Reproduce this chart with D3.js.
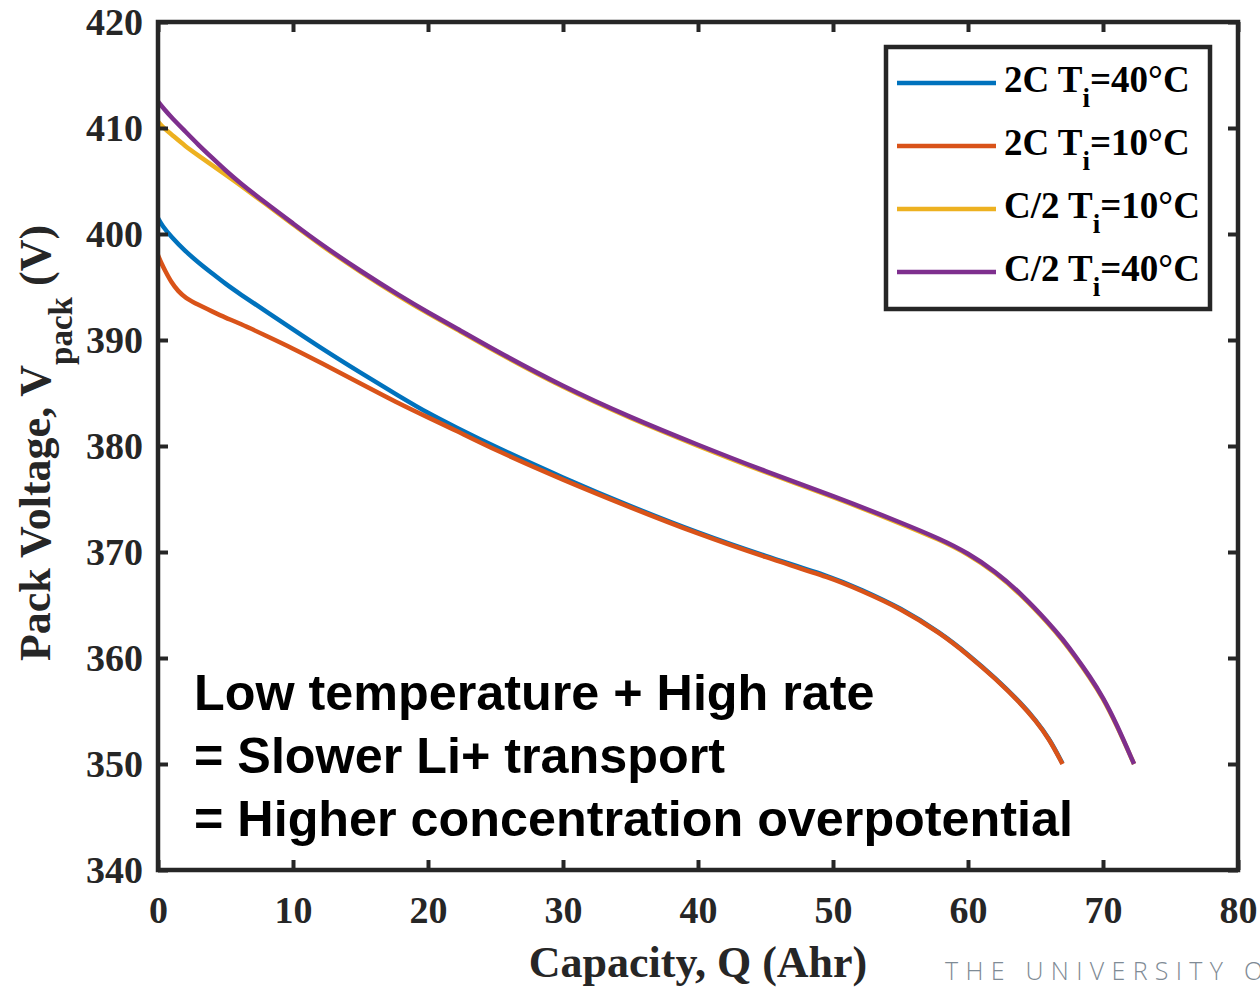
<!DOCTYPE html>
<html><head><meta charset="utf-8">
<script src="https://cdn.jsdelivr.net/npm/d3@7"></script>
<style>body{margin:0;background:#fff}svg{display:block}</style>
</head><body><svg id="c" width="1260" height="987"></svg>
<script>
const xTicks = [0,10,20,30,40,50,60,70,80];
const yTicks = [340,350,360,370,380,390,400,410,420];
const seriesNames = ["2C", "2C", "C/2", "C/2"];
const seriesTemps = ["=40°C", "=10°C", "=10°C", "=40°C"];
const seriesColors = ["#0072BD", "#D95319", "#EDB120", "#7E2F8E"];

const qBlue  = [0,0.3,1,2,3,4,5,6,8,10,12,15,18,20,22,25,30,35,40,45,50,52,55,58,60,62,64,65,66,67];
const vBlue  = [401.5,400.8,399.7,398.4,397.3,396.3,395.3,394.4,392.7,391.0,389.3,386.9,384.6,383.1,381.8,379.9,377.0,374.3,371.8,369.6,367.6,366.5,364.75,362.35,360.35,358.15,355.65,354.15,352.45,350.05];
const qOrange = [0,0.3,0.5,1,1.5,2,3,4,5,6,8,10,12,15,18,20,22,25,30,35,40,45,50,52,55,58,60,62,64,65,66,67];
const vOrange = [398.0,397.1,396.6,395.4,394.6,394.0,393.3,392.7,392.1,391.6,390.4,389.2,387.9,385.9,383.9,382.7,381.5,379.6,376.8,374.2,371.7,369.5,367.5,366.4,364.7,362.3,360.3,358.1,355.6,354.1,352.4,350.0];
const qYellow = [0,0.5,1,2,3,4,5,6,8,10,12,15,18,20,22,25,30,35,40,45,50,55,58,60,62,64,66,67,68,69,70,71,72.3];
const vYellow = [410.6,409.9,409.4,408.3,407.4,406.5,405.6,404.7,402.8,400.9,399.0,396.4,394.0,392.5,391.1,388.9,385.5,382.6,380.0,377.5,375.2,372.7,371.1,369.8,368.1,365.9,363.2,361.7,360.0,358.2,356.2,353.7,350.0];
const qPurple = [0,0.5,1,2,3,4,5,6,8,10,12,15,18,20,22,25,30,35,40,45,50,55,58,60,62,64,66,67,68,69,70,71,72.3];
const vPurple = [412.5,411.7,411.0,409.7,408.4,407.2,406.0,404.9,402.9,401.0,399.1,396.5,394.1,392.6,391.2,389.0,385.6,382.7,380.1,377.6,375.3,372.8,371.2,369.9,368.2,366.0,363.3,361.8,360.1,358.3,356.3,353.8,350.0];

const qs = [qBlue, qOrange, qYellow, qPurple];
const vs = [vBlue, vOrange, vYellow, vPurple];

const L = 158, T = 22, W = 1080, H = 848;
const svg = d3.select("#c");
const x = d3.scaleLinear().domain([0,80]).range([L, L+W]);
const y = d3.scaleLinear().domain([340,420]).range([T+H, T]);
const axisColor = "#262626";
const serif = "'Liberation Serif','Times New Roman',serif";

// curves
const line = d3.line().x(d=>x(d[0])).y(d=>y(d[1])).curve(d3.curveBasis);
qs.forEach((q,i)=>{
  const pts = q.map((qq,j)=>[qq, vs[i][j]]);
  svg.append("path").attr("d", line(pts)).attr("fill","none")
    .attr("stroke", seriesColors[i]).attr("stroke-width", 4.5)
    .attr("stroke-linejoin","round");
});

// axes
function styleAxis(g){
  g.selectAll("path.domain").remove();
  g.selectAll(".tick line").attr("stroke", axisColor).attr("stroke-width", 4);
  g.selectAll(".tick text").attr("fill", axisColor).attr("font-family", serif)
    .attr("font-weight","bold").attr("font-size", 38);
}
const gx = svg.append("g").attr("transform", `translate(0,${T+H})`)
  .call(d3.axisBottom(x).tickValues(xTicks).tickSizeInner(-10).tickSizeOuter(0));
styleAxis(gx);
gx.selectAll(".tick text").attr("dy", "0.71em").attr("y", 26);
const gxt = svg.append("g").attr("transform", `translate(0,${T})`)
  .call(d3.axisTop(x).tickValues(xTicks).tickSizeInner(-10).tickSizeOuter(0).tickFormat(""));
styleAxis(gxt);
const gy = svg.append("g").attr("transform", `translate(${L},0)`)
  .call(d3.axisLeft(y).tickValues(yTicks).tickSizeInner(-10).tickSizeOuter(0));
styleAxis(gy);
gy.selectAll(".tick text").attr("x", -15);
const gyr = svg.append("g").attr("transform", `translate(${L+W},0)`)
  .call(d3.axisRight(y).tickValues(yTicks).tickSizeInner(-10).tickSizeOuter(0).tickFormat(""));
styleAxis(gyr);
// box
svg.append("rect").attr("x", L).attr("y", T).attr("width", W).attr("height", H)
  .attr("fill","none").attr("stroke", axisColor).attr("stroke-width", 4.5);

// axis titles
svg.append("text").attr("x", 698).attr("y", 977).attr("text-anchor","middle")
  .attr("font-family", serif).attr("font-weight","bold").attr("font-size", 44)
  .attr("fill", axisColor).text("Capacity, Q (Ahr)");
const yt = svg.append("text").attr("transform", `translate(50,443) rotate(-90)`)
  .attr("text-anchor","middle").attr("font-family", serif).attr("font-weight","bold")
  .attr("font-size", 44).attr("fill", axisColor);
yt.append("tspan").text("Pack Voltage, V");
yt.append("tspan").attr("dy", 22).attr("font-size", 33).text("pack");
yt.append("tspan").attr("dy", -22).text(" (V)");

// legend
const lg = svg.append("g");
lg.append("rect").attr("x", 886).attr("y", 47).attr("width", 324).attr("height", 262)
  .attr("fill","#fff").attr("stroke", axisColor).attr("stroke-width", 4.5);
const rowY = [83, 146, 209, 272];
seriesColors.forEach((c,i)=>{
  lg.append("line").attr("x1", 897).attr("x2", 996).attr("y1", rowY[i]).attr("y2", rowY[i])
    .attr("stroke", c).attr("stroke-width", 4.5);
  const t = lg.append("text").attr("x", 1004).attr("y", rowY[i]+9)
    .attr("font-family", serif).attr("font-weight","bold").attr("font-size", 37).attr("fill","#000");
  t.append("tspan").text(seriesNames[i] + " T");
  t.append("tspan").attr("dy", 15).attr("font-size", 27).text("i");
  t.append("tspan").attr("dy", -15).text(seriesTemps[i]);
});

// annotation
const ann = ["Low temperature + High rate", "= Slower Li+ transport", "= Higher concentration overpotential"];
ann.forEach((s,i)=>{
  svg.append("text").attr("x", 194).attr("y", 710 + i*63)
    .attr("font-family","'Liberation Sans',Arial,sans-serif").attr("font-weight","bold")
    .attr("font-size", 50.3).attr("fill","#000").text(s);
});

// watermark (cut off at the right edge, as in the original)
svg.append("text").attr("x", 945).attr("y", 980)
  .attr("font-family","'Open Sans',sans-serif").attr("font-weight", 300)
  .attr("font-size", 25).attr("letter-spacing", 7.3).attr("fill","#7f8b95")
  .text("THE UNIVERSITY OF");
</script></body></html>
